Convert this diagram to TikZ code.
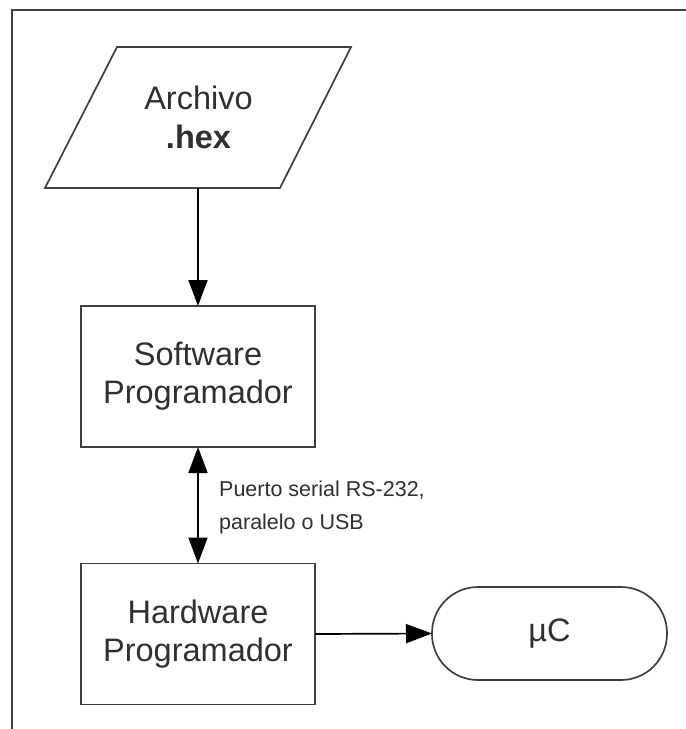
\documentclass[tikz,border=0pt]{standalone}
\usepackage{fontspec}
\setmainfont{Liberation Sans}
\usetikzlibrary{arrows.meta}
\definecolor{edge}{HTML}{404040}
\definecolor{txt}{HTML}{303030}
\begin{document}
\begin{tikzpicture}[x=1pt,y=-1pt,
  every node/.style={text=txt},
  box/.style={draw=edge,line width=1.7pt,rectangle,minimum width=234pt,minimum height=141pt,
    align=center,font=\fontsize{32.5}{38}\selectfont,inner sep=0pt,outer sep=0pt},
  iotext/.style={align=center,font=\fontsize{32.5}{39}\selectfont,inner sep=0pt},
  iobox/.style={draw=edge,line width=1.7pt,line join=miter},
  term/.style={draw=edge,line width=1.7pt,rectangle,rounded corners=46pt,minimum width=235pt,minimum height=93pt,
    font=\fontsize{32.5}{38}\selectfont,inner sep=0pt,outer sep=0pt},
  conn/.style={draw=black,line width=1.7pt,-{Triangle[length=26pt,width=19pt]}},
  lbl/.style={align=left,font=\fontsize{21.5}{33}\selectfont,inner sep=0pt}
]
\useasboundingbox (0,0) rectangle (686,729);
% outer frame (top and left visible)
\draw[edge,line width=1.7pt] (12,729) -- (12,10) -- (686,10);

% input/output parallelogram
\draw[iobox] (117,47) -- (351,47) -- (280,188) -- (45,188) -- cycle;
\node[iotext] (hex) at (198.5,117) {Archivo\\\textbf{.hex}};
\coordinate (hexb) at (198,188);

\node[box] (sw) at (198,376.5) {Software\\Programador};
\node[box] (hw) at (198,634) {Hardware\\Programador};
\node[term] (uc) at (549.5,633.5) {µC};

\draw[conn] (hexb) -- (sw.north);
\draw[conn,{Triangle[length=26pt,width=19pt]}-{Triangle[length=26pt,width=19pt]}] (sw.south) -- (hw.north);
\draw[conn] (hw.east) -- (uc.west);

\node[lbl,anchor=west] (port) at (219,507) {Puerto serial RS-232,\\paralelo o USB};
\end{tikzpicture}
\end{document}
